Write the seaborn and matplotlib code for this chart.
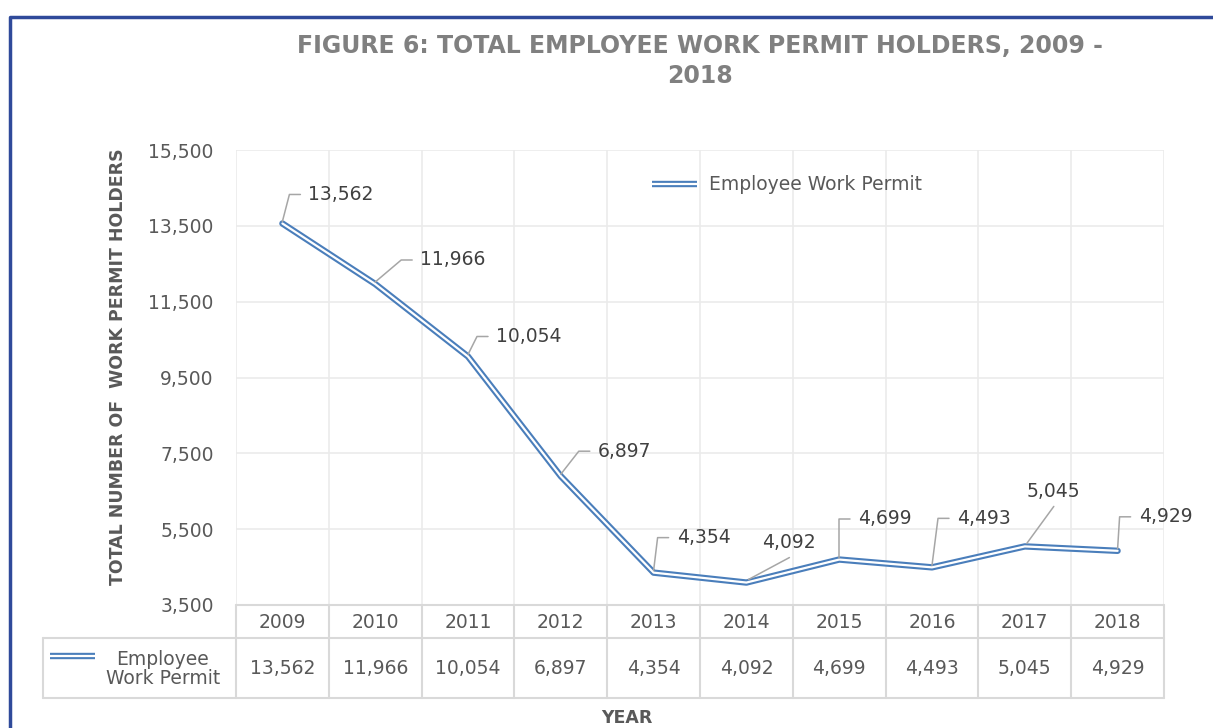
import numpy as np
import pandas as pd
import matplotlib
matplotlib.use("Agg")
import matplotlib.pyplot as plt
import matplotlib.transforms as mtransforms
from matplotlib.lines import Line2D
import seaborn as sns

years = ["2009", "2010", "2011", "2012", "2013", "2014", "2015", "2016", "2017", "2018"]
permits = [13562, 11966, 10054, 6897, 4354, 4092, 4699, 4493, 5045, 4929]
series_name = "Employee Work Permit"
y_ticks = [3500, 5500, 7500, 9500, 11500, 13500, 15500]

# label placement (pixels from the point): text left/centre, and leader type
label_off = [(26, 29), (45, 24), (28, 20), (37, 25), (23, 35),
             (16, 40), (19, 41), (25, 49), (2, 55), (21, 34)]
diag_leader = [False, False, False, False, False, True, False, False, True, False]

BLUE = "#4a7ebb"
GRID = "#ebebeb"
TBL = "#d9d9d9"
TXT = "#595959"
LW_OUT, LW_IN = 4.6, 1.6

sns.set_theme(style="white")
plt.rcParams["font.family"] = ["DejaVu Sans"]

W, H = 1213, 728
fig = plt.figure(figsize=(W / 100, H / 100), dpi=100)
ax_l, ax_r, ax_t, ax_b = 236, 1164, 150, 605
ax = fig.add_axes([ax_l / W, 1 - ax_b / H, (ax_r - ax_l) / W, (ax_b - ax_t) / H])

df = pd.DataFrame({"pos": np.arange(len(years)), "val": permits})
# compound (double) line: thick blue with a thin white core
sns.lineplot(data=df, x="pos", y="val", ax=ax, color=BLUE, linewidth=LW_OUT, zorder=3)
sns.lineplot(data=df, x="pos", y="val", ax=ax, color="white", linewidth=LW_IN, zorder=4)

ax.set_xlim(-0.5, len(years) - 0.5)
ax.set_ylim(y_ticks[0], y_ticks[-1])
ax.set_yticks(y_ticks)
ax.set_yticklabels([f"{t:,}" for t in y_ticks], color=TXT, fontsize=13.5)
ax.set_xticks(np.arange(-0.5, len(years), 1))
ax.set_xticklabels([])
ax.tick_params(axis="both", length=0, pad=16)
ax.grid(True, color=GRID, lw=1.2)
for s in ax.spines.values():
    s.set_visible(False)
ax.set_xlabel("")
ax.set_ylabel("")

# data labels with leader lines
for i, v in enumerate(permits):
    dx, dy = label_off[i]
    ax.annotate(f"{v:,}", xy=(i, v), xytext=(dx, dy), textcoords="offset pixels",
                ha="left", va="center", fontsize=13.5, color="#404040", zorder=6)
    tr = mtransforms.Affine2D() + mtransforms.ScaledTranslation(i, v, ax.transData)
    if diag_leader[i]:
        xs, ys = [2, dx + 27], [3, dy - 15]
    else:
        xs, ys = [0, dx - 19, dx - 8], [2, dy, dy]
    ax.plot(xs, ys, transform=tr, color="#a6a6a6", lw=1.1, zorder=5, clip_on=False)

# legend (double-line key drawn by hand)
for c, w in [(BLUE, LW_OUT), ("white", LW_IN)]:
    ax.plot([0.448, 0.497], [0.925, 0.925], transform=ax.transAxes, color=c, lw=w,
            solid_capstyle="butt", zorder=7)
ax.text(0.510, 0.925, series_name, transform=ax.transAxes, ha="left", va="center",
        fontsize=13.5, color=TXT)

# data table below the plot
tb_top, tb_mid, tb_bot = 605, 638, 698
tax = fig.add_axes([ax_l / W, 1 - tb_bot / H, (ax_r - ax_l) / W, (tb_bot - tb_top) / H])
tax.set_xlim(-0.5, len(years) - 0.5)
tax.set_ylim(tb_bot - tb_top, 0)
tax.axis("off")
band = (ax_r - ax_l) / len(years)
left_x = -0.5 - (ax_l - 43) / band
hm, hb = tb_mid - tb_top, tb_bot - tb_top
kw = dict(color=TBL, lw=1.5, clip_on=False)
tax.plot([-0.5, len(years) - 0.5], [0, 0], **kw)
tax.plot([left_x, len(years) - 0.5], [hm, hm], **kw)
tax.plot([left_x, len(years) - 0.5], [hb, hb], **kw)
tax.plot([left_x, left_x], [hm, hb], **kw)
for b in np.arange(-0.5, len(years), 1):
    tax.plot([b, b], [0, hb], **kw)
for i, (yr, v) in enumerate(zip(years, permits)):
    tax.text(i, hm / 2 + 1, yr, ha="center", va="center", fontsize=13.5, color=TXT)
    tax.text(i, (hm + hb) / 2 + 1, f"{v:,}", ha="center", va="center", fontsize=13.5, color=TXT)
tax.text(-0.5 - (ax_l - 163) / band, (hm + hb) / 2 + 1, "Employee\nWork Permit", ha="center",
         va="center", multialignment="center", fontsize=13.5, color=TXT, linespacing=1.05)
lx0 = left_x + 7 / band
lx1 = left_x + 52 / band
for c, w in [(BLUE, LW_OUT), ("white", LW_IN)]:
    tax.plot([lx0, lx1], [hm + 18, hm + 18], color=c, lw=w, clip_on=False, solid_capstyle="butt")

# titles and axis labels
fig.text(700 / W, 1 - 61 / H, "FIGURE 6: TOTAL EMPLOYEE WORK PERMIT HOLDERS, 2009 -\n2018",
         ha="center", va="center", fontsize=17, fontweight="bold", color="#808080",
         linespacing=1.3)
fig.text(118 / W, 1 - 367 / H, "TOTAL NUMBER OF  WORK PERMIT HOLDERS", rotation=90,
         ha="center", va="center", fontsize=12.5, fontweight="bold", color=TXT)
fig.text(627 / W, 1 - 709 / H, "YEAR", ha="center", va="top", fontsize=12.5,
         fontweight="bold", color=TXT)

# dark blue frame (top and left edges visible)
fig.add_artist(Line2D([10 / W, 10 / W, 1], [0, 1 - 17 / H, 1 - 17 / H],
                      transform=fig.transFigure, color="#2f4a9a", lw=2.5))

fig.savefig("out.png", dpi=100)
